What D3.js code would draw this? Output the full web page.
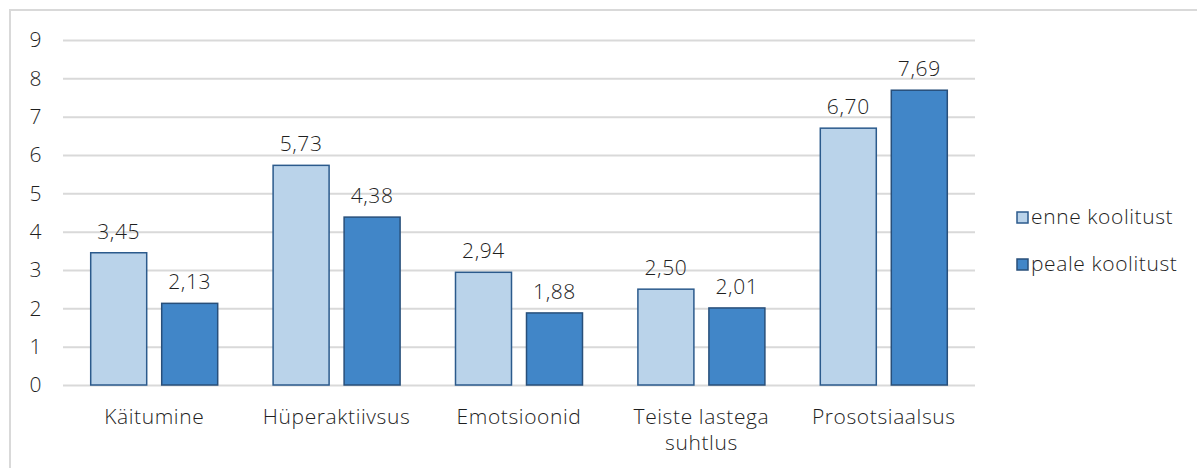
<!DOCTYPE html>
<html>
<head>
<meta charset="utf-8">
<script src="https://cdn.jsdelivr.net/npm/d3@7"></script>
<style>
body { margin:0; background:#fff; }
text { font-family: "Open Sans", Lato, sans-serif; font-weight:300; fill:#1f1f1f; letter-spacing:0.6px; }
</style>
</head>
<body>
<svg></svg>
<script>
var categories = ["Käitumine", "Hüperaktiivsus", "Emotsioonid", "Teiste lastega suhtlus", "Prosotsiaalsus"];
var categoryLines = [["Käitumine"], ["Hüperaktiivsus"], ["Emotsioonid"], ["Teiste lastega", "suhtlus"], ["Prosotsiaalsus"]];
var seriesNames = ["enne koolitust", "peale koolitust"];
var enne = [3.45, 5.73, 2.94, 2.50, 6.70];
var peale = [2.13, 4.38, 1.88, 2.01, 7.69];
var yTicks = [0, 1, 2, 3, 4, 5, 6, 7, 8, 9];

var screen = {width: 1197, height: 468};
var margins = {top: 40, left: 63, right: 222, bottom: 83};
var colors = ["#bad3ea", "#4186c8"];
var strokes = ["#2b5a8c", "#284f7a"];

var svg = d3.select("svg")
    .attr("width", screen.width)
    .attr("height", screen.height);

// outer frame (bottom and right are off the picture)
svg.append("rect")
    .attr("x", 10).attr("y", 10)
    .attr("width", 1200).attr("height", 480)
    .attr("fill", "none")
    .attr("stroke", "#d9d9d9")
    .attr("stroke-width", 2);

var width = screen.width - margins.left - margins.right;
var height = screen.height - margins.top - margins.bottom;

var xScale = d3.scaleBand().domain(categories).range([0, width]);
var yScale = d3.scaleLinear().domain([0, 9]).range([height, 0]);

var g = svg.append("g")
    .attr("transform", "translate(" + margins.left + "," + margins.top + ")");

// gridlines + y labels
var yAxis = d3.axisLeft(yScale).tickValues(yTicks).tickSize(-width).tickFormat(d3.format("d"));
g.append("g").call(yAxis)
    .call(function(a){
        a.select(".domain").remove();
        a.selectAll(".tick line").attr("stroke", "#d9d9d9").attr("stroke-width", 2);
        a.selectAll(".tick text").attr("x", -21).attr("font-size", 21);
    });

var barW = 56, gap = 15;
var data = [enne, peale];

data.forEach(function(vals, s){
    var off = s == 0 ? -gap/2 - barW : gap/2;
    g.append("g").selectAll("rect")
        .data(vals)
        .enter()
        .append("rect")
        .attr("x", function(d, i){ return xScale(categories[i]) + xScale.bandwidth()/2 + off; })
        .attr("y", function(d){ return yScale(d); })
        .attr("width", barW)
        .attr("height", function(d){ return yScale(0) - yScale(d); })
        .attr("fill", colors[s])
        .attr("stroke", strokes[s])
        .attr("stroke-width", 1.5);

    g.append("g").selectAll("text")
        .data(vals)
        .enter()
        .append("text")
        .attr("x", function(d, i){ return xScale(categories[i]) + xScale.bandwidth()/2 + off + barW/2; })
        .attr("y", function(d){ return yScale(d) - 14; })
        .attr("text-anchor", "middle")
        .attr("font-size", 21)
        .text(function(d){ return d.toFixed(2).replace(".", ","); });
});

// category labels
var labels = g.append("g").selectAll("text")
    .data(categoryLines)
    .enter()
    .append("text")
    .attr("text-anchor", "middle")
    .attr("font-size", 21)
    .attr("font-weight", function(d, i){ return i < 2 ? 400 : 300; })
    .attr("transform", function(d, i){
        return "translate(" + (xScale(categories[i]) + xScale.bandwidth()/2) + "," + (height + 39) + ")";
    });
labels.selectAll("tspan")
    .data(function(d){ return d; })
    .enter()
    .append("tspan")
    .attr("x", 0)
    .attr("dy", function(d, i){ return i == 0 ? 0 : 26; })
    .text(function(d){ return d; });

// legend
var legend = svg.append("g").attr("transform", "translate(1017,212)");
seriesNames.forEach(function(name, i){
    var row = legend.append("g").attr("transform", "translate(0," + (i * 47) + ")");
    row.append("rect")
        .attr("width", 11).attr("height", 11)
        .attr("fill", colors[i])
        .attr("stroke", strokes[i])
        .attr("stroke-width", 1.5);
    row.append("text")
        .attr("x", 14).attr("y", 12)
        .attr("font-size", 21)
        .text(name);
});
</script>
</body>
</html>
